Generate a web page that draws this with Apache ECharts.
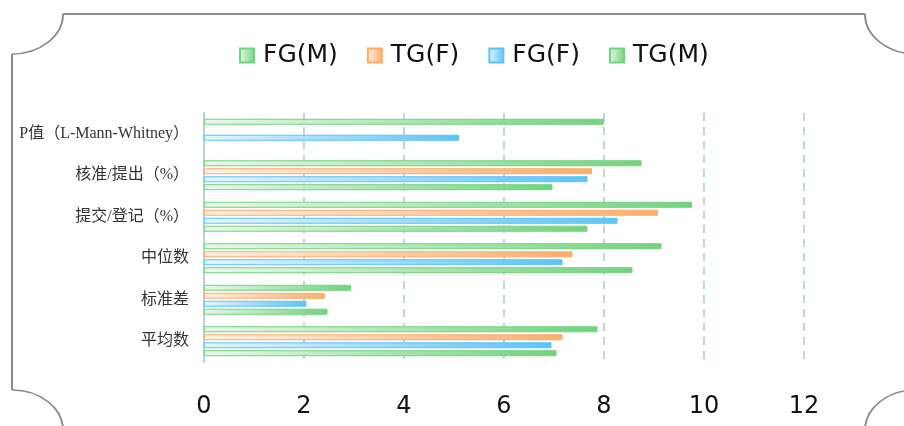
<!DOCTYPE html>
<html lang="zh">
<head>
    <meta charset="UTF-8">
    <title>FG / TG</title>
    <style>
        * { margin: 0; padding: 0; }
        html, body { width: 100%; height: 100%; background: #fff; }
        #charts { width: 904px; height: 426px; }
    </style>
    <script src="https://cdn.jsdelivr.net/npm/echarts@6/dist/echarts.min.js"></script>
</head>
<body>
<div id="charts"></div>
<script>
    // 类目从下往上
    var categories = ['平均数', '标准差', '中位数', '提交/登记（%）', '核准/提出（%）', 'P值（L-Mann-Whitney）'];
    var seriesNames = ['FG(M)', 'TG(F)', 'FG(F)', 'TG(M)'];
    var fgM = [7.87, 2.94, 9.15, 9.76, 8.75, 8.0];
    var tgF = [7.17, 2.42, 7.37, 9.08, 7.76, null];
    var fgF = [6.95, 2.05, 7.17, 8.27, 7.67, 5.1];
    var tgM = [7.05, 2.47, 8.57, 7.67, 6.97, null];
    var xTicks = [0, 2, 4, 6, 8, 10, 12];

    var colors = ['#72d37e', '#fbad6c', '#5cc4f6', '#72d37e'];
    var lights = ['#e8f8ea', '#fff0e3', '#e5f5fd', '#e8f8ea'];

    function makeBar(name, data, i) {
        return {
            name: name,
            type: 'bar',
            barWidth: 6,
            barGap: '33%',
            itemStyle: {
                color: new echarts.graphic.LinearGradient(0, 0, 1, 0, [
                    {offset: 0, color: lights[i]},
                    {offset: 1, color: colors[i]}
                ]),
                borderColor: colors[i],
                borderWidth: 1
            },
            data: data
        };
    }

    // 边框（四角内凹）
    var frameStyle = {fill: 'none', stroke: '#8c8c8c', lineWidth: 2};
    function corner(cx, cy, a0, a1) {
        return {
            type: 'arc', silent: true,
            shape: {cx: cx, cy: cy, r: 51, startAngle: a0, endAngle: a1, clockwise: true},
            originX: cx, originY: cy, scaleY: 40 / 51,
            style: frameStyle
        };
    }
    var frame = [
        {type: 'line', silent: true, shape: {x1: 63, y1: 14, x2: 865, y2: 14}, style: frameStyle},
        {type: 'line', silent: true, shape: {x1: 12, y1: 54, x2: 12, y2: 390}, style: frameStyle},
        corner(12, 14, 0, Math.PI / 2),
        corner(916, 14, Math.PI / 2, Math.PI),
        corner(12, 430, Math.PI * 1.5, Math.PI * 2),
        corner(916, 430, Math.PI, Math.PI * 1.5)
    ];

    var option = {
        animation: false,
        color: colors,
        graphic: frame,
        legend: {
            top: 38,
            left: 234,
            icon: 'rect',
            itemWidth: 14,
            itemHeight: 14,
            itemGap: 29,
            data: seriesNames,
            textStyle: {
                fontFamily: 'DejaVu Sans',
                fontSize: 25,
                color: '#111',
                padding: [0, 0, 0, 4]
            }
        },
        grid: {
            left: 204,
            right: 100,
            top: 113,
            bottom: 64
        },
        xAxis: {
            type: 'value',
            min: 0,
            max: 12,
            interval: 2,
            axisLine: {show: false},
            axisTick: {show: false},
            axisLabel: {
                margin: 33,
                fontFamily: 'DejaVu Sans',
                fontSize: 24,
                color: '#111',
                formatter: function (v) {
                    return xTicks.indexOf(v) >= 0 ? String(v) : '';
                }
            },
            splitLine: {
                lineStyle: {color: '#bfd5e0', width: 2, type: [8, 6]}
            }
        },
        yAxis: {
            type: 'category',
            data: categories,
            axisLine: {lineStyle: {color: '#b5cfdc', width: 2}},
            axisTick: {show: false},
            axisLabel: {
                margin: 15,
                fontFamily: 'Liberation Serif, Noto Sans CJK SC',
                fontSize: 16,
                color: '#333'
            }
        },
        series: [
            makeBar(seriesNames[0], fgM, 0),
            makeBar(seriesNames[1], tgF, 1),
            makeBar(seriesNames[2], fgF, 2),
            makeBar(seriesNames[3], tgM, 3)
        ]
    };
    var myChart = echarts.init(document.getElementById('charts'));
    myChart.setOption(option);
</script>
</body>
</html>
